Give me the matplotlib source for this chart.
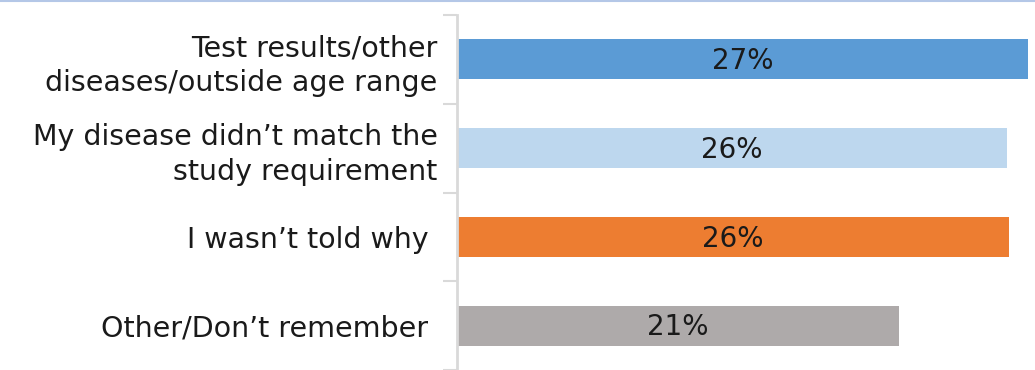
import matplotlib.pyplot as plt
from matplotlib.lines import Line2D

# Chart data
categories = [
    'Test results/other\ndiseases/outside age range',
    'My disease didn\u2019t match the\nstudy requirement',
    'I wasn\u2019t told why ',
    'Other/Don\u2019t remember ',
]
shares = [0.270, 0.260, 0.261, 0.209]
colors = ['#5B9BD5', '#BDD7EE', '#ED7D31', '#AEAAAA']

plt.rcParams['font.family'] = ['DejaVu Sans']

fig = plt.figure(figsize=(10.35, 3.7), dpi=100)
ax = fig.add_axes([457 / 1035, 0, 578 / 1035, 355 / 370])

ypos = list(range(len(categories)))
ax.barh(ypos, shares, height=0.45, color=colors)

# Value labels in the middle of each bar
for y, v in zip(ypos, shares):
    ax.text(v / 2, y + 0.02, f'{v:.0%}', ha='center', va='center',
            fontsize=20, color='#1a1a1a')

ax.set_xlim(0, 0.27 * 578 / 571)
ax.set_ylim(len(categories) - 0.5, -0.5)

ax.set_yticks(ypos)
ax.set_yticklabels(categories, fontsize=20.5, color='#1a1a1a',
                   linespacing=1.3)
ax.tick_params(axis='y', which='major', length=0, pad=14)
ax.set_yticks([i - 0.5 for i in range(len(categories) + 1)], minor=True)
ax.tick_params(axis='y', which='minor', length=10, width=1.5, color='#D9D9D9')
ax.set_xticks([])

for side in ['top', 'right', 'bottom']:
    ax.spines[side].set_visible(False)
ax.spines['left'].set_color('#D9D9D9')
ax.spines['left'].set_linewidth(2)

# Thin border across the top of the picture
fig.add_artist(Line2D([0, 1], [0.998, 0.998], transform=fig.transFigure,
                      color='#B4C7E7', linewidth=1.5))

fig.savefig('out.png', dpi=100)
